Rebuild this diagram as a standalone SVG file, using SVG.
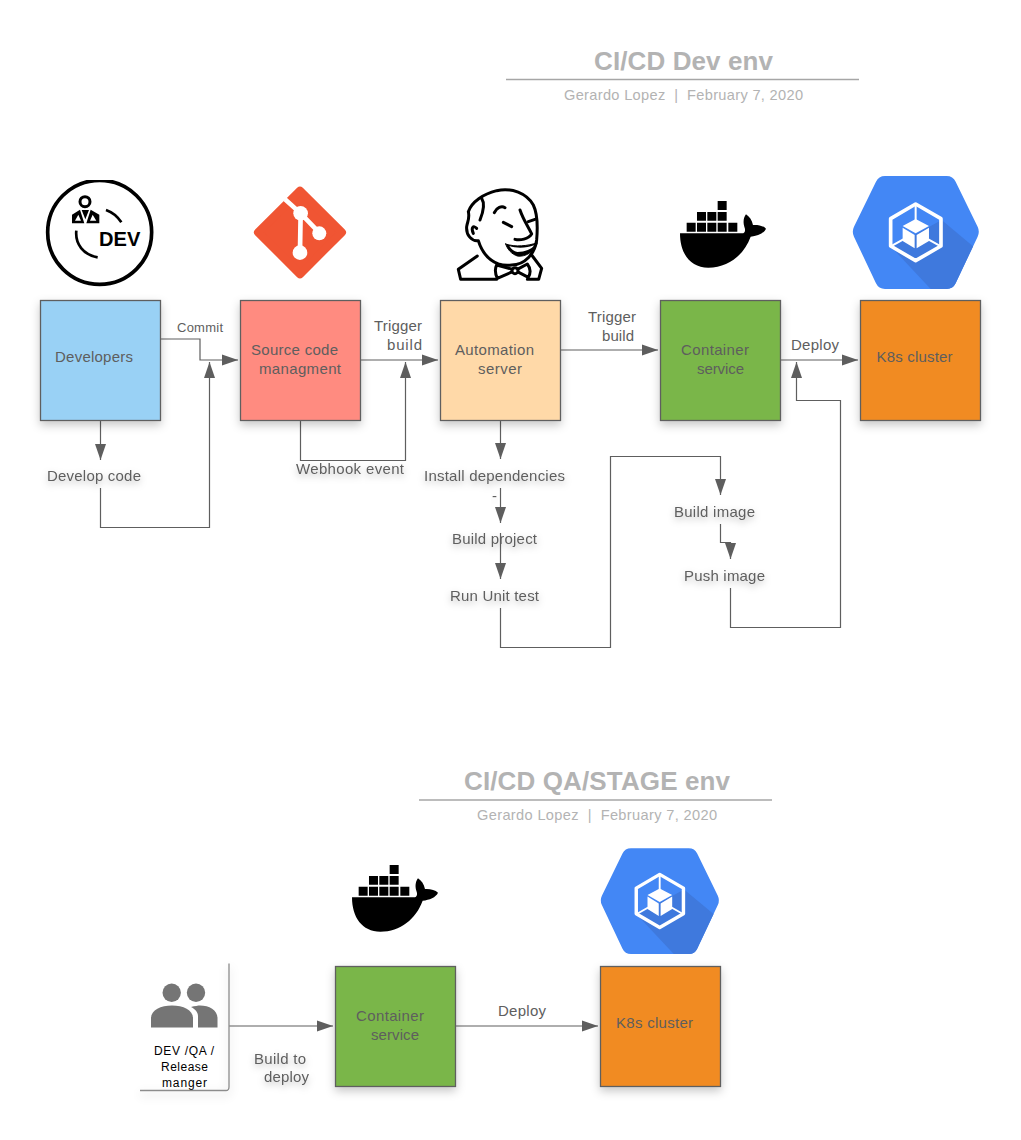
<svg xmlns="http://www.w3.org/2000/svg" xmlns:xlink="http://www.w3.org/1999/xlink" width="1021" height="1140" viewBox="0 0 1021 1140">
<style>
text{font-family:"Liberation Sans",Arial,sans-serif;font-size:15px;fill:#5e5e5e}
.lbl{filter:url(#ts)}
.box{stroke:#5e5e5e;stroke-width:1.3;filter:url(#bs)}
.title{font-size:26px;font-weight:bold;fill:#b3b3b3}
.sub{fill:#b3b3b3;font-size:14.6px}
.rule{stroke:#a6a6a6;stroke-width:1.5;fill:none}
.c{fill:none;stroke:#5e5e5e;stroke-width:1.2}
.a{marker-end:url(#arr)}
.blk{fill:#000;font-size:12px}
</style>
<defs>
<filter id="bs" x="-20%" y="-20%" width="140%" height="140%"><feDropShadow dx="0" dy="4" stdDeviation="5" flood-color="#000" flood-opacity=".22"/></filter>
<filter id="ts" x="-20%" y="-50%" width="140%" height="220%"><feDropShadow dx="0" dy="3" stdDeviation="3.5" flood-color="#000" flood-opacity=".28"/></filter>
<marker id="arr" markerUnits="userSpaceOnUse" markerWidth="16" markerHeight="12" refX="16" refY="6" orient="auto"><path d="M0,.5L16,6L0,11.500z" fill="#5e5e5e"/></marker>
<clipPath id="hexclip"><path id="hexp" d="M582,170L648,35Q656,18 675,18H860Q879,18 887,35L953,170Q960,185 953,200L887,340Q879,357 860,357H675Q656,357 648,340L582,200Q575,185 582,170z"/></clipPath>
<clipPath id="ringclip"><rect x="0" y="30" width="420" height="340"/></clipPath>
<g id="docker">
<g fill="#000"><path d="M80,158h27v27h-27zM111,158h27v27h-27zM142,158h27v27h-27zM173,158h27v27h-27zM205,158h27v27h-27zM111,126h27v26h-27zM142,126h27v26h-27zM173,126h27v26h-27zM173,93h27v27h-27z"/>
<path d="M60,190H246C254,190 258,182 253,170C248,155 252,140 258,133C268,140 276,150 279,165C293,164 310,167 318,176C312,190 292,198 272,200C252,255 205,293 145,293C90,293 60,250 60,190z"/></g>
</g>
<g id="k8s">
<path d="M582,170L648,35Q656,18 675,18H860Q879,18 887,35L953,170Q960,185 953,200L887,340Q879,357 860,357H675Q656,357 648,340L582,200Q575,185 582,170z" fill="#4387f5"/>
<path clip-path="url(#hexclip)" d="M845,150L965,250V360H815L695,232z" fill="#3f79dd"/>
<g fill="none" stroke="#fff" stroke-linejoin="round">
<path stroke-width="11" d="M767,102L843,146V228L767,272L692,228V146z"/>
<path stroke-width="6" d="M767,105V150M695,228L730,208M840,228L805,208"/>
</g>
<path d="M767,147L807,168L767,190L728,168zM728,173L764,195V235L728,213zM770,195L807,173V213L770,235z" fill="#fff"/>
</g>
</defs>

<g id="title-dev">
<text class="title" x="594" y="70" textLength="179">CI/CD Dev env</text>
<path class="rule" d="M506,79.500H859"/>
<text class="sub" x="564" y="100" textLength="239" xml:space="preserve">Gerardo Lopez  |  February 7, 2020</text>
</g>

<g id="icon-dev" transform="translate(30,170) scale(.3333)">
<circle cx="209" cy="187" r="156" fill="none" stroke="#000" stroke-width="11" clip-path="url(#ringclip)"/>
<circle cx="165" cy="95" r="15" fill="none" stroke="#000" stroke-width="9"/>
<path d="M126,160V134L150,119L163,160zM208,160V134L182,119L169,160zM155,120H177L166,148z" fill="#000"/>
<path d="M145,134L135,152H153zM188,134L199,152H180z" fill="#fff"/>
<path d="M228,120C248,127 263,140 274,157M139,182C135,222 160,255 203,262" fill="none" stroke="#000" stroke-width="8"/>
<text x="207" y="228" style="font-size:62px;font-weight:bold;fill:#000" textLength="124" lengthAdjust="spacingAndGlyphs">DEV</text>
</g>

<g id="icon-git" transform="translate(30,170) scale(.3333)">
<path d="M810,62L936,187L810,313L684,187z" fill="#f05533" stroke="#f05533" stroke-width="24" stroke-linejoin="round"/>
<path d="M765,88L812,130L870,190M812,130L810,248" fill="none" stroke="#fff" stroke-width="14"/>
<circle cx="812" cy="130" r="22" fill="#fff"/><circle cx="868" cy="190" r="21" fill="#fff"/><circle cx="810" cy="248" r="22" fill="#fff"/>
</g>

<g id="icon-jenkins" transform="translate(440,170) scale(.3333)" fill="none" stroke="#000" stroke-width="9" stroke-linejoin="round" stroke-linecap="round">
<path d="M175,282C145,270 125,245 115,212C95,215 78,195 80,170C82,155 90,145 85,125C95,95 130,72 170,62C215,52 260,70 280,105C292,130 293,175 290,210C285,250 255,285 215,285C200,287 185,285 175,282z" fill="#fff"/>
<path d="M125,85C135,100 130,125 120,150M100,190C92,172 100,165 110,175"/>
<path d="M163,128C170,112 185,107 195,113M190,157L215,170M265,155L285,148"/>
<path d="M240,120C250,150 265,170 275,192C265,208 240,212 225,208"/>
<path d="M197,222C225,232 265,228 292,218C285,245 255,262 232,258C215,252 203,240 197,222z" fill="#000" stroke-width="3"/>
<path d="M208,228C230,236 262,234 282,226C276,238 255,246 232,246C222,244 214,238 208,228z" fill="#fff" stroke="none"/>
<path d="M112,258L55,298L62,328H170M275,255L305,295L296,328H262"/>
<path d="M170,285L218,298V305L172,325C165,310 165,295 170,285zM262,282L232,298V305L265,322C272,310 272,295 262,282z" fill="#fff"/>
<circle cx="225" cy="302" r="9" fill="#fff"/>
</g>

<use id="icon-docker-1" xlink:href="#docker" href="#docker" transform="translate(660,170) scale(.3333)"/>
<use id="icon-k8s-1" xlink:href="#k8s" href="#k8s" transform="translate(660,170) scale(.3333)"/>

<g id="connectors">
<path class="c a" d="M160,339H200V360H238"/>
<path class="c a" d="M100.500,420V460"/>
<path class="c a" d="M100.500,488V527.500H209.500V362"/>
<path class="c a" d="M360,360H438"/>
<path class="c a" d="M300.500,420V460.500H405.500V362"/>
<path class="c a" d="M500.500,420V459"/>
<path class="c a" d="M500.500,488V523"/>
<path class="c a" d="M500.500,533V579"/>
<path class="c a" d="M500.500,608V647.500H610.500V456.500H720.500V495"/>
<path class="c a" d="M720.500,524V542.500H730.500V559"/>
<path class="c a" d="M730.500,588V627.500H840.500V400.500H796.500V362"/>
<path class="c a" d="M560,350H658"/>
<path class="c a" d="M780,360H858"/>
<path class="c a" d="M229,1026H333"/>
<path class="c a" d="M455,1026H598"/>
</g>

<g id="node-developers"><rect class="box" x="40.500" y="300.500" width="120" height="120" fill="#99d1f5"/><text x="55" y="362" textLength="78">Developers</text></g>
<g id="node-scm"><rect class="box" x="240.500" y="300.500" width="120" height="120" fill="#ff8b80"/><text x="251" y="355" textLength="87">Source code</text><text x="259" y="374" textLength="82">managment</text></g>
<g id="node-automation"><rect class="box" x="440.500" y="300.500" width="120" height="120" fill="#ffd9a8"/><text x="455" y="355" textLength="79">Automation</text><text x="478" y="374" textLength="44">server</text></g>
<g id="node-container-1"><rect class="box" x="660.500" y="300.500" width="120" height="120" fill="#7ab648"/><text x="681" y="355" textLength="68">Container</text><text x="697" y="374" textLength="47">service</text></g>
<g id="node-k8s-1"><rect class="box" x="860.500" y="300.500" width="120" height="120" fill="#f18b24"/><text x="876.500" y="362" textLength="76">K8s cluster</text></g>

<g id="labels">
<text x="177" y="331.500" style="font-size:13px" textLength="46">Commit</text>
<text x="374" y="331" textLength="48">Trigger</text><text x="387" y="350" textLength="35">build</text>
<text x="588" y="322" textLength="48">Trigger</text><text x="602" y="341" textLength="32">build</text>
<text x="791" y="350" textLength="48">Deploy</text>
<text class="lbl" x="47" y="481" textLength="94">Develop code</text>
<text class="lbl" x="296" y="474" textLength="108">Webhook event</text>
<text class="lbl" x="424" y="481" textLength="141">Install dependencies</text>
<text class="lbl" x="492" y="501">-</text>
<text class="lbl" x="452" y="544" textLength="85">Build project</text>
<text class="lbl" x="450" y="600.500" textLength="89">Run Unit test</text>
<text class="lbl" x="674" y="516.500" textLength="81">Build image</text>
<text class="lbl" x="684" y="580.500" textLength="81">Push image</text>
</g>

<g id="title-qa">
<text class="title" x="464" y="790" textLength="266">CI/CD QA/STAGE env</text>
<path class="rule" d="M419,800H772"/>
<text class="sub" x="477" y="820" textLength="240" xml:space="preserve">Gerardo Lopez  |  February 7, 2020</text>
</g>

<use id="icon-docker-2" xlink:href="#docker" href="#docker" transform="translate(332,834) scale(.3333)"/>
<use id="icon-k8s-2" xlink:href="#k8s" href="#k8s" transform="translate(420,842.500) scale(.3125)"/>

<g id="node-people">
<path d="M229,963.500V1087Q229,1090.500 226,1090.500H140" fill="none" stroke="#8c8c8c" stroke-width="1.3" filter="url(#bs)"/>
<g fill="#757575"><circle cx="171.700" cy="992.700" r="9.200"/><circle cx="196" cy="992.700" r="9.200"/>
<path d="M151,1027.500V1018C151,1010 161,1005.500 172,1005.500C183,1005.500 193,1010 193,1018V1027.500z"/>
<path d="M198,1027.500V1016C198,1012 195,1009 191,1007C195,1006 198,1005.500 200,1005.500C209,1005.500 217.500,1010 217.500,1018V1027.500z"/></g>
<text class="blk" x="154" y="1054.500" textLength="60">DEV /QA /</text>
<text class="blk" x="161" y="1070.500" textLength="47">Release</text>
<text class="blk" x="162" y="1086.500" textLength="45">manger</text>
</g>
<g id="node-container-2"><rect class="box" x="335.500" y="966.500" width="120" height="120" fill="#7ab648"/><text x="356" y="1021" textLength="68">Container</text><text x="371" y="1040" textLength="48">service</text></g>
<g id="node-k8s-2"><rect class="box" x="600.500" y="966.500" width="120" height="120" fill="#f18b24"/><text x="616" y="1028" textLength="77">K8s cluster</text></g>
<g id="labels-2">
<text class="lbl" x="254" y="1063.500" textLength="52">Build to</text>
<text class="lbl" x="264" y="1082" textLength="45">deploy</text>
<text x="498" y="1016" textLength="48">Deploy</text>
</g>
</svg>
